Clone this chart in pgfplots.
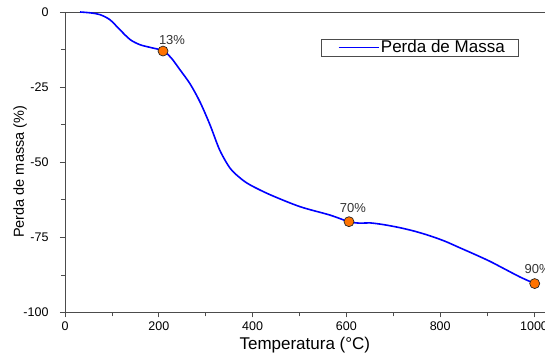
\documentclass[border=0pt]{standalone}
\usepackage{fontspec}
\setmainfont{Liberation Sans}
\usepackage{pgfplots}
\pgfplotsset{compat=1.18}
\begin{document}
\begin{tikzpicture}
\begin{axis}[
  scale only axis,
  width=492.45pt, height=300.4pt,
  xmin=0, xmax=1050, ymin=-100, ymax=0,
  xtick={0,200,400,600,800,1000},
  minor xtick={100,300,500,700,900},
  ytick={0,-25,-50,-75,-100},
  minor ytick={-12.5,-37.5,-62.5,-87.5},
  xtick pos=bottom, ytick pos=left,
  tick align=outside,
  major tick length=5pt, minor tick length=4pt,
  every tick/.style={black!70, line width=0.7pt},
  axis line style={black!70, line width=0.9pt},
  /pgf/number format/assume math mode=true,
  /pgf/number format/1000 sep={},
  tick label style={font=\fontsize{12.5}{14}\selectfont},
  yticklabel style={xshift=-8pt},
  xticklabel style={yshift=-1pt},
  xlabel={Temperatura (°C)},
  ylabel={Perda de massa (\%)},
  xlabel style={font=\fontsize{17}{19}\selectfont, at={(axis description cs:0.487,-0.124)}, anchor=base},
  ylabel style={font=\fontsize{14.5}{17}\selectfont, at={(axis description cs:-0.0833,0.468)}, anchor=base},
  legend style={at={(axis cs:756,-11.8)}, anchor=center, draw=black!70, line width=0.7pt,
    font=\fontsize{17}{19}\selectfont, inner xsep=1pt, inner ysep=0pt,
    nodes={inner sep=1.5pt}, legend cell align=left},
  legend image code/.code={\path (-16pt,0pt); \draw[#1, line width=1.5pt] (0pt,0pt) -- (40pt,0pt);},
]
\addplot[blue, line width=1.6pt, smooth] coordinates {
(32,0) (55,-0.3) (75,-0.9) (96,-2.6) (117,-5.9) (139,-9.2) (160,-10.9) (182,-11.8) (209,-12.9)
(226,-15.2) (245,-19.2) (267,-24) (288,-30) (309,-37.5) (330,-46) (352,-52) (373,-55.2)
(394,-57.5) (437,-60.8) (501,-64.8) (565,-67.6) (605,-69.8) (630,-70.3) (650,-70.2) (680,-70.8)
(714,-71.8) (746,-73) (778,-74.5) (810,-76.3) (842,-78.5) (874,-80.7) (906,-83) (938,-85.6)
(970,-88.2) (1001,-90.4) (1009,-91.2)
};
\addlegendentry{Perda de Massa\rule{11pt}{0pt}}
\addplot[only marks, mark=*, mark size=5pt, mark options={fill=orange!90!red, draw=black!85, line width=0.7pt},
  nodes near coords, point meta=explicit symbolic,
  visualization depends on={\thisrow{dx}\as\dx},
  visualization depends on={\thisrow{dy}\as\dy},
  every node near coord/.append style={font=\fontsize{13}{15}\selectfont, black!80, anchor=center,
    xshift=\dx pt, yshift=\dy pt}]
  table[meta=lab] {
x y dx dy lab
209 -13 9 11 13\%
605.5 -69.8 4 14 70\%
1001.5 -90.4 3 15 90\%
};
\end{axis}
\pgfresetboundingbox
\path[use as bounding box] (-65pt,-41.3pt) rectangle (480pt,312.4pt);
\end{tikzpicture}
\end{document}
